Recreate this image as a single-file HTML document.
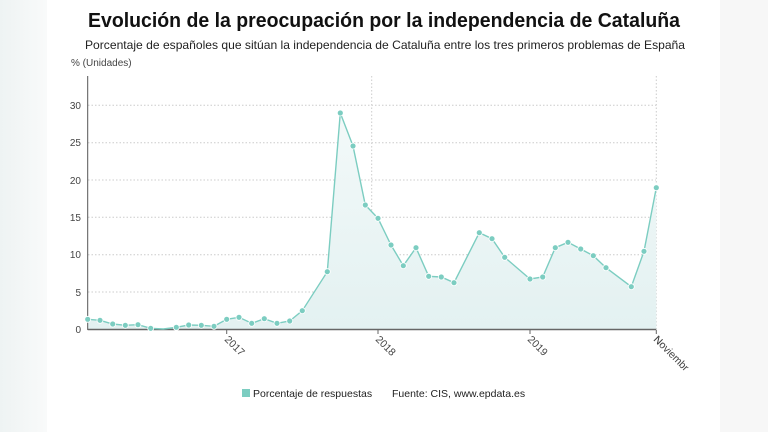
<!DOCTYPE html>
<html><head><meta charset="utf-8"><style>
html,body{margin:0;padding:0;width:768px;height:432px;overflow:hidden;background:#f4f6f6}
svg{display:block}
text{font-family:"Liberation Sans",sans-serif}
</style></head><body>
<svg width="768" height="432" viewBox="0 0 768 432" xmlns="http://www.w3.org/2000/svg">
<defs>
<linearGradient id="lg" x1="0" x2="1" y1="0" y2="0"><stop offset="0" stop-color="#eef3f3"/><stop offset="1" stop-color="#f9fafa"/></linearGradient>
<linearGradient id="fa" x1="0" x2="0" y1="0" y2="1"><stop offset="0" stop-color="#f3f9f9"/><stop offset="1" stop-color="#e3f1f1"/></linearGradient>
</defs>
<rect x="0" y="0" width="47" height="432" fill="url(#lg)"/>
<rect x="720" y="0" width="48" height="432" fill="#f7f7f7"/>
<rect x="47" y="0" width="673" height="432" fill="#fff"/>
<text x="384" y="27" text-anchor="middle" font-size="20" font-weight="bold" fill="#111" textLength="592" lengthAdjust="spacingAndGlyphs">Evolución de la preocupación por la independencia de Cataluña</text>
<text x="385" y="49" text-anchor="middle" font-size="12" fill="#222" textLength="600" lengthAdjust="spacingAndGlyphs">Porcentaje de españoles que sitúan la independencia de Cataluña entre los tres primeros problemas de España</text>
<text x="71" y="66" font-size="10" fill="#444">% (Unidades)</text>
<g stroke="#ccc" stroke-dasharray="1.5,2" stroke-width="1">
<line x1="88" x2="656" y1="105.3" y2="105.3"/><line x1="88" x2="656" y1="142.7" y2="142.7"/><line x1="88" x2="656" y1="180" y2="180"/><line x1="88" x2="656" y1="217.3" y2="217.3"/><line x1="88" x2="656" y1="254.7" y2="254.7"/><line x1="88" x2="656" y1="292" y2="292"/>
<line x1="371.7" x2="371.7" y1="76" y2="329"/><line x1="656.3" x2="656.3" y1="76" y2="329"/>
</g>
<g font-size="10" fill="#444" text-anchor="end">
<text x="81" y="109">30</text><text x="81" y="146">25</text><text x="81" y="184">20</text><text x="81" y="221">15</text><text x="81" y="258">10</text><text x="81" y="296">5</text><text x="81" y="333">0</text>
</g>
<polygon fill="url(#fa)" points="87.7,329.3 87.7,319.3 100,320.3 112.7,324 125.3,325.3 138,324.7 150.7,328.3 163.3,329 176.3,327.3 188.7,325 201.3,325.3 214,326.3 226.7,319.3 239,317.3 251.7,323.3 264.3,318.7 277,323.3 289.7,321 302.3,310.7 327.3,271.7 340.3,113 353,146 365.3,205 378,218.3 391,245 403.3,265.7 416,247.7 428.7,276.3 441.3,277 454,282.7 479.3,232.7 492,238.7 504.7,257.3 530,279 542.7,277 555.3,247.7 568,242.3 580.7,249 593.3,255.7 606,267.7 631.3,286.7 644,251.3 656.3,187.7 656.3,329.3"/>
<line x1="87.7" x2="87.7" y1="76" y2="330" stroke="#555" stroke-width="1"/>
<line x1="87.7" x2="656.3" y1="329.5" y2="329.5" stroke="#666" stroke-width="1.5"/>
<g stroke="#666"><line x1="226.7" x2="226.7" y1="330" y2="334"/><line x1="378" x2="378" y1="330" y2="334"/><line x1="530" x2="530" y1="330" y2="334"/><line x1="656.3" x2="656.3" y1="330" y2="334"/></g>
<polyline fill="none" stroke="#7ccdc1" stroke-width="1.4" points="87.7,319.3 100,320.3 112.7,324 125.3,325.3 138,324.7 150.7,328.3 163.3,329 176.3,327.3 188.7,325 201.3,325.3 214,326.3 226.7,319.3 239,317.3 251.7,323.3 264.3,318.7 277,323.3 289.7,321 302.3,310.7 327.3,271.7 340.3,113 353,146 365.3,205 378,218.3 391,245 403.3,265.7 416,247.7 428.7,276.3 441.3,277 454,282.7 479.3,232.7 492,238.7 504.7,257.3 530,279 542.7,277 555.3,247.7 568,242.3 580.7,249 593.3,255.7 606,267.7 631.3,286.7 644,251.3 656.3,187.7"/>
<g fill="#7ccdc1" stroke="#fff" stroke-width="0.8">
<circle cx="87.7" cy="319.3" r="3"/><circle cx="100" cy="320.3" r="3"/><circle cx="112.7" cy="324" r="3"/><circle cx="125.3" cy="325.3" r="3"/><circle cx="138" cy="324.7" r="3"/><circle cx="150.7" cy="328.3" r="3"/><circle cx="176.3" cy="327.3" r="3"/><circle cx="188.7" cy="325" r="3"/><circle cx="201.3" cy="325.3" r="3"/><circle cx="214" cy="326.3" r="3"/><circle cx="226.7" cy="319.3" r="3"/><circle cx="239" cy="317.3" r="3"/><circle cx="251.7" cy="323.3" r="3"/><circle cx="264.3" cy="318.7" r="3"/><circle cx="277" cy="323.3" r="3"/><circle cx="289.7" cy="321" r="3"/><circle cx="302.3" cy="310.7" r="3"/><circle cx="327.3" cy="271.7" r="3"/><circle cx="340.3" cy="113" r="3"/><circle cx="353" cy="146" r="3"/><circle cx="365.3" cy="205" r="3"/><circle cx="378" cy="218.3" r="3"/><circle cx="391" cy="245" r="3"/><circle cx="403.3" cy="265.7" r="3"/><circle cx="416" cy="247.7" r="3"/><circle cx="428.7" cy="276.3" r="3"/><circle cx="441.3" cy="277" r="3"/><circle cx="454" cy="282.7" r="3"/><circle cx="479.3" cy="232.7" r="3"/><circle cx="492" cy="238.7" r="3"/><circle cx="504.7" cy="257.3" r="3"/><circle cx="530" cy="279" r="3"/><circle cx="542.7" cy="277" r="3"/><circle cx="555.3" cy="247.7" r="3"/><circle cx="568" cy="242.3" r="3"/><circle cx="580.7" cy="249" r="3"/><circle cx="593.3" cy="255.7" r="3"/><circle cx="606" cy="267.7" r="3"/><circle cx="631.3" cy="286.7" r="3"/><circle cx="644" cy="251.3" r="3"/><circle cx="656.3" cy="187.7" r="3"/>
</g>
<g font-size="10.5" fill="#444">
<text transform="translate(224,340) rotate(45)">2017</text>
<text transform="translate(375,340) rotate(45)">2018</text>
<text transform="translate(527,340) rotate(45)">2019</text>
<text transform="translate(653,340) rotate(45)">NovIembre</text>
</g>
<rect x="649" y="345" width="50" height="40" fill="#fff"/>
<text transform="translate(653,340) rotate(45)" font-size="10.5" fill="#444">Noviembr</text>
<rect x="242" y="389" width="8" height="8" fill="#7ccdc1"/>
<text x="253" y="397" font-size="10.5" fill="#222">Porcentaje de respuestas</text>
<text x="392" y="397" font-size="10.5" fill="#222">Fuente: CIS, www.epdata.es</text>
</svg>
</body></html>
